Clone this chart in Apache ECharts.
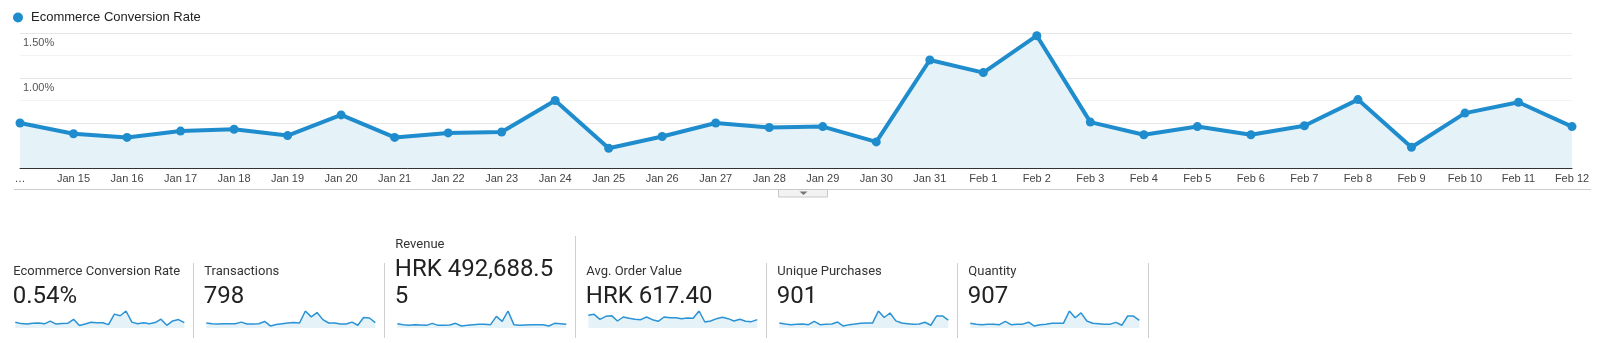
<!DOCTYPE html>
<html><head><meta charset="utf-8">
<script src="https://cdn.jsdelivr.net/npm/echarts@6/dist/echarts.min.js"></script>
<style>html,body{margin:0;padding:0;background:#fff}#c{width:1610px;height:343px}</style>
</head><body><div id="c"></div>
<script>
// ---- data ----
const categories = ['Jan 14','Jan 15','Jan 16','Jan 17','Jan 18','Jan 19','Jan 20','Jan 21','Jan 22','Jan 23','Jan 24','Jan 25','Jan 26','Jan 27','Jan 28','Jan 29','Jan 30','Jan 31','Feb 1','Feb 2','Feb 3','Feb 4','Feb 5','Feb 6','Feb 7','Feb 8','Feb 9','Feb 10','Feb 11','Feb 12'];
const tickLabels = ['…','Jan 15','Jan 16','Jan 17','Jan 18','Jan 19','Jan 20','Jan 21','Jan 22','Jan 23','Jan 24','Jan 25','Jan 26','Jan 27','Jan 28','Jan 29','Jan 30','Jan 31','Feb 1','Feb 2','Feb 3','Feb 4','Feb 5','Feb 6','Feb 7','Feb 8','Feb 9','Feb 10','Feb 11','Feb 12'];
const seriesName = 'Ecommerce Conversion Rate';
const conversionRate = [0.50,0.38,0.34,0.41,0.43,0.36,0.59,0.34,0.39,0.40,0.75,0.22,0.35,0.50,0.45,0.46,0.29,1.20,1.06,1.47,0.51,0.37,0.46,0.37,0.47,0.76,0.23,0.61,0.73,0.46];
const transactions = [22,19,18,19,19,19,26,18,18,19,29,9,15,19,22,24,22,75,49,68,37,22,22,18,18,26,12,46,44,24];
const revenue = [17100,13200,10500,13200,11900,10500,18400,10500,10500,11900,18400,7900,10500,13200,14500,14500,13200,46100,26300,67200,13200,10500,11900,13200,13200,13200,7900,18400,17100,14500];
const avgOrderValue = [809,873,554,745,788,447,703,618,554,533,703,533,426,703,660,660,596,639,618,1086,383,447,596,682,596,447,554,426,405,533];
const uniquePurchases = [25,20,17,19,20,17,34,17,19,20,30,10,17,20,24,25,25,86,53,76,36,25,22,19,20,29,14,61,61,40];
const quantity = [25,20,17,19,20,17,34,17,19,20,30,10,17,20,24,25,25,88,53,78,36,25,22,19,20,29,14,62,62,40];
const cardLabels = ['Ecommerce Conversion Rate','Transactions','Revenue','Avg. Order Value','Unique Purchases','Quantity'];
const cardValues = ['0.54%','798','HRK 492,688.5\n5','HRK 617.40','901','907'];
const cardSeries = [conversionRate, transactions, revenue, avgOrderValue, uniquePurchases, quantity];

// ---- chart ----
const chart = echarts.init(document.getElementById('c'), null, {renderer: 'canvas'});
const LINE = '#1f8dcd';
const AREA = '#e5f2f8';

const grids = [{left: 20, right: 38, top: 33, bottom: 175}];
const xAxes = [{
  type: 'category', gridIndex: 0, data: categories, boundaryGap: false,
  axisLine: {show: true, lineStyle: {color: '#333', width: 1}},
  axisTick: {show: false},
  axisLabel: {interval: 0, hideOverlap: false, margin: 5, color: '#444', fontSize: 11,
    fontFamily: 'Liberation Sans, Arial, sans-serif',
    formatter: (v, i) => tickLabels[i]},
  splitLine: {show: false}
}];
const yAxes = [{
  type: 'value', gridIndex: 0, min: 0, max: 1.5, interval: 0.25,
  axisLine: {show: false}, axisTick: {show: false},
  axisLabel: {inside: true, margin: 3, verticalAlign: 'top', padding: [4, 0, 0, 0],
    color: '#555', fontSize: 11, fontFamily: 'Liberation Sans, Arial, sans-serif',
    formatter: v => (v > 0 && Math.abs(v * 2 - Math.round(v * 2)) < 1e-9) ? v.toFixed(2) + '%' : ''},
  splitLine: {show: true, lineStyle: {color: ['#e6e6e6', '#f3f3f3'], width: 1}}
}];
const series = [{
  name: seriesName, type: 'line', xAxisIndex: 0, yAxisIndex: 0, data: conversionRate,
  symbol: 'circle', symbolSize: 9, showSymbol: true,
  lineStyle: {color: LINE, width: 4}, itemStyle: {color: LINE},
  areaStyle: {color: AREA, opacity: 1}, z: 3
}];

const graphic = [];
const BOX_W = 191, BOX0 = 2.3;
cardLabels.forEach((lab, i) => {
  const bl = BOX0 + BOX_W * i;
  const lines = cardValues[i].split('\n');
  const n = lines.length;
  const LH = 26.7;
  graphic.push({type: 'text', left: bl + 11, top: 273 - (n - 1) * LH - 8,
    style: {text: lab, fill: '#333', font: '13px Roboto'}});
  lines.forEach((ln, k) => {
    graphic.push({type: 'text', left: bl + 10.5, top: 299 - (n - 1 - k) * LH - 14,
      style: {text: ln, fill: '#222', font: '24px Roboto'}});
  });
  const sx = Math.round(bl + BOX_W) + 0.5;
  const tall = (i === 2);
  graphic.push({type: 'line', shape: {x1: sx, y1: tall ? 236 : 263, x2: sx, y2: 338},
    style: {stroke: '#cfcfcf', lineWidth: 1}});
  const gi = grids.length;
  grids.push({left: bl + 13, top: 311, width: 169, height: 17});
  xAxes.push({type: 'category', gridIndex: gi, data: categories, boundaryGap: false, show: false});
  yAxes.push({type: 'value', gridIndex: gi, min: 0, max: 'dataMax', show: false, splitLine: {show: false}});
  series.push({type: 'line', xAxisIndex: gi, yAxisIndex: gi, data: cardSeries[i], symbol: 'none',
    lineStyle: {color: '#2a93d5', width: 1.5}, areaStyle: {color: AREA, opacity: 1}, silent: true});
});
graphic.push({type: 'line', shape: {x1: 14, y1: 189.5, x2: 1591, y2: 189.5}, style: {stroke: '#cccccc', lineWidth: 1}});
graphic.push({type: 'rect', shape: {x: 778.5, y: 189.5, width: 49, height: 7.5},
  style: {fill: '#f2f2f2', stroke: '#c8c8c8', lineWidth: 1}});
graphic.push({type: 'polygon', shape: {points: [[799.5, 191.5], [807.5, 191.5], [803.5, 195]]}, style: {fill: '#777'}});

chart.setOption({
  animation: false,
  backgroundColor: '#fff',
  legend: {show: true, left: 8, top: 6, icon: 'circle', itemWidth: 10, itemHeight: 10,
    data: [seriesName], selectedMode: false,
    textStyle: {color: '#222', fontSize: 13, fontFamily: 'Liberation Sans, Arial, sans-serif', padding: [0, 0, 0, 3]}},
  grid: grids, xAxis: xAxes, yAxis: yAxes, series: series, graphic: graphic
});
</script></body></html>
